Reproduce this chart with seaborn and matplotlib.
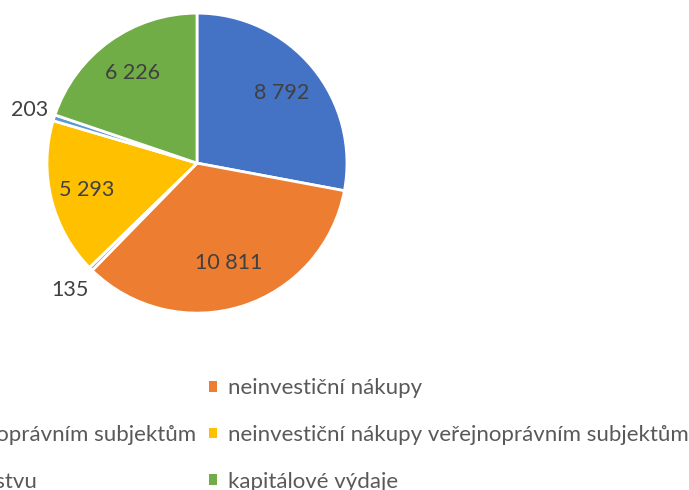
import numpy as np
import seaborn as sns
import matplotlib.pyplot as plt
from matplotlib.patches import Patch

labels = [
    "platy a související výdaje",
    "neinvestiční nákupy",
    "neinvestiční transfery soukromoprávním subjektům",
    "neinvestiční nákupy veřejnoprávním subjektům",
    "neinvestiční transfery obyvatelstvu",
    "kapitálové výdaje",
]
values = [8792, 10811, 135, 5293, 203, 6226]
colors = ["#4472C4", "#ED7D31", "#A5A5A5", "#FFC000", "#5B9BD5", "#70AD47"]
# label radius as fraction of pie radius (Excel "best fit")
label_r = [0.73, 0.7, 1.2, 0.76, 1.17, 0.74]

sns.set_theme(style="white")
plt.rcParams["font.family"] = ["Lato", "DejaVu Sans"]

fig = plt.figure(figsize=(6.89, 4.9), dpi=100)
ax = fig.add_axes([0.0682, 0.361, 0.4354, 0.6122])

wedges, _ = ax.pie(
    values,
    colors=colors,
    startangle=90,
    counterclock=False,
    radius=1,
    wedgeprops=dict(edgecolor="white", linewidth=2),
)
ax.set_xlim(-1, 1)
ax.set_ylim(-1, 1)
ax.set_aspect("equal")
ax.axis("off")

for w, v, r in zip(wedges, values, label_r):
    ang = np.deg2rad((w.theta1 + w.theta2) / 2)
    txt = f"{v:,}".replace(",", " ")
    ax.text(r * np.cos(ang), r * np.sin(ang), txt, ha="center", va="center",
            fontsize=15.5, color="#404040")

# legend: matplotlib fills column-major
order = [0, 2, 4, 1, 3, 5]
handles = [Patch(facecolor=colors[i], edgecolor="none") for i in order]
fig.legend(
    handles,
    [labels[i] for i in order],
    ncol=2,
    loc="upper right",
    bbox_to_anchor=(1.0, 0.228),
    frameon=False,
    fontsize=16,
    labelcolor="#595959",
    handlelength=0.38,
    handleheight=0.38,
    handletextpad=0.5,
    columnspacing=0.55,
    labelspacing=1.2,
    borderpad=0,
    borderaxespad=0,
)

fig.savefig("out.png", dpi=100)
